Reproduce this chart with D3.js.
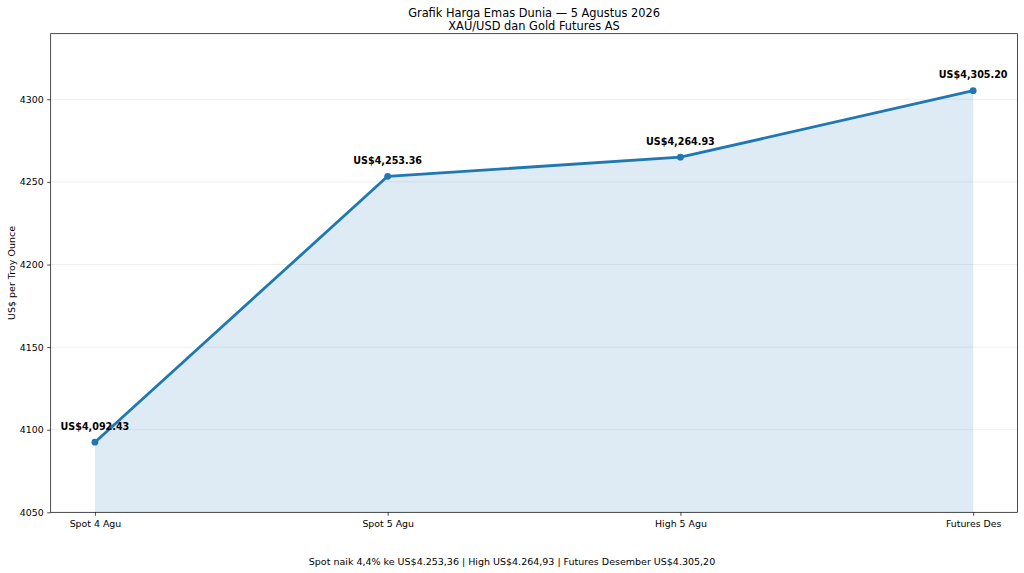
<!DOCTYPE html>
<html><head><meta charset="utf-8">
<script src="https://cdn.jsdelivr.net/npm/d3@7"></script>
<style>body{margin:0;background:#fff}svg{display:block;font-family:"DejaVu Sans",sans-serif}</style>
</head><body><svg id="c" width="1024" height="573"></svg>
<script>
const categories = ["Spot 4 Agu", "Spot 5 Agu", "High 5 Agu", "Futures Des"];
const prices = [4092.43, 4253.36, 4264.93, 4305.20];
const priceLabels = ["US$4,092.43", "US$4,253.36", "US$4,264.93", "US$4,305.20"];
const yTicks = [4050, 4100, 4150, 4200, 4250, 4300];
const titleLines = ["Grafik Harga Emas Dunia — 5 Agustus 2026", "XAU/USD dan Gold Futures AS"];
const yLabel = "US$ per Troy Ounce";
const footer = "Spot naik 4,4% ke US$4.253,36 | High US$4.264,93 | Futures Desember US$4.305,20";

const svg = d3.select("#c");
const L = 50.7, R = 1017.4, T = 33.7, B = 512.3;
const x = d3.scaleLinear().domain([-0.151, 3.151]).range([L, R]);
const y = d3.scaleLinear().domain([4050, 4339.7]).range([B, T]);
const blue = "#1f77b4";
const g = svg.append("g");

// grid
g.selectAll("line.grid").data(yTicks).join("line")
  .attr("x1", L).attr("x2", R).attr("y1", d => y(d)).attr("y2", d => y(d))
  .attr("stroke", "#b0b0b0").attr("stroke-opacity", 0.3).attr("stroke-width", 0.7);

const data = prices.map((v, i) => ({i, v}));
g.append("path").datum(data)
  .attr("d", d3.area().x(d => x(d.i)).y0(y(4050)).y1(d => y(d.v)))
  .attr("fill", blue).attr("fill-opacity", 0.15);
g.append("path").datum(data)
  .attr("d", d3.line().x(d => x(d.i)).y(d => y(d.v)))
  .attr("fill", "none").attr("stroke", blue).attr("stroke-width", 2.8).attr("stroke-linejoin", "round");
g.selectAll("circle").data(data).join("circle")
  .attr("cx", d => x(d.i)).attr("cy", d => y(d.v)).attr("r", 3.4).attr("fill", blue);
g.selectAll("text.lab").data(data).join("text")
  .attr("x", d => x(d.i)).attr("y", d => y(d.v) - 12.5)
  .attr("text-anchor", "middle").attr("font-size", 9.6).attr("font-weight", "bold")
  .text(d => priceLabels[d.i]);

// axes
const ya = svg.append("g").attr("transform", `translate(${L},0)`)
  .call(d3.axisLeft(y).tickValues(yTicks).tickSize(3.5).tickPadding(3.5).tickFormat(d3.format("d")));
const xa = svg.append("g").attr("transform", `translate(0,${B})`)
  .call(d3.axisBottom(x).tickValues([0,1,2,3]).tickSize(3.5).tickPadding(4.5).tickFormat(i => categories[i]));
[ya, xa].forEach(a => {
  a.select(".domain").remove();
  a.selectAll("text").attr("font-size", 9.4).attr("fill", "#000").attr("font-family", "DejaVu Sans");
  a.selectAll("line").attr("stroke", "#000").attr("stroke-width", 0.7);
});
svg.append("rect").attr("x", L).attr("y", T).attr("width", R - L).attr("height", B - T)
  .attr("fill", "none").attr("stroke", "#000").attr("stroke-width", 0.7);

svg.selectAll("text.title").data(titleLines).join("text")
  .attr("x", (L + R) / 2).attr("y", (d, i) => 16.5 + i * 13.5)
  .attr("text-anchor", "middle").attr("font-size", 11.4).text(d => d);
svg.append("text").attr("transform", `translate(14.5,${(T + B) / 2}) rotate(-90)`)
  .attr("text-anchor", "middle").attr("font-size", 9.5).text(yLabel);
svg.append("text").attr("x", 512).attr("y", 564.5).attr("text-anchor", "middle")
  .attr("font-size", 9.5).text(footer);
</script></body></html>
